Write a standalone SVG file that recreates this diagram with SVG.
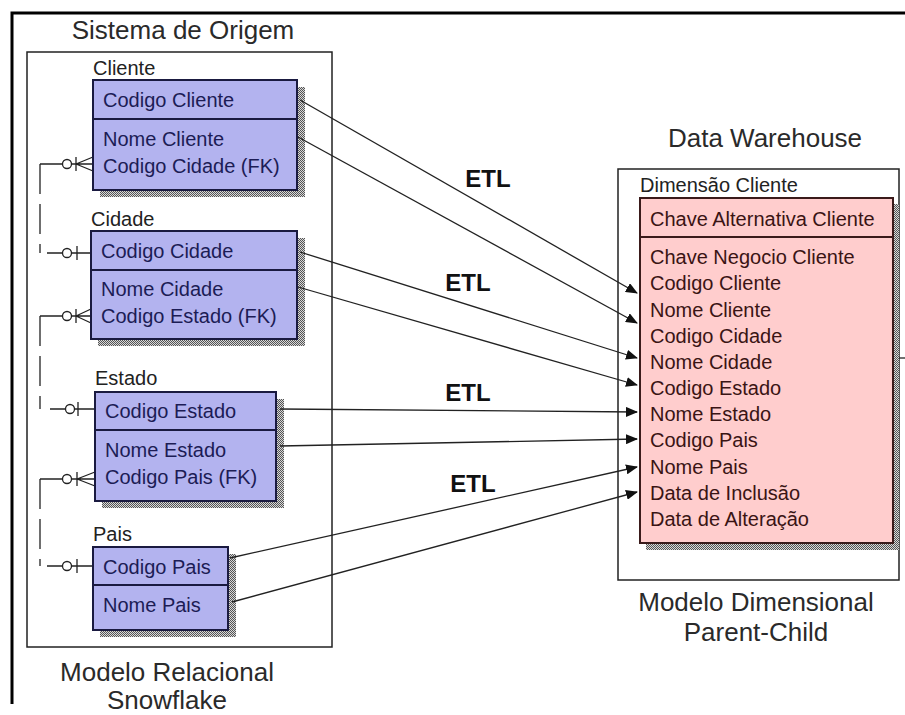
<svg xmlns="http://www.w3.org/2000/svg" width="905" height="715" viewBox="0 0 905 715">
  <style>
    .title { font-family: "Liberation Sans", Arial, sans-serif; font-size: 26px; fill: #2a2a2a; }
    .lbl { font-family: "Liberation Sans", Arial, sans-serif; font-size: 20px; fill: #222; }
    .row { font-family: "Liberation Sans", Arial, sans-serif; font-size: 20px; fill: #1c1c55; }
    .prow { font-family: "Liberation Sans", Arial, sans-serif; font-size: 20px; fill: #3a1414; }
    .etl { font-family: "Liberation Sans", Arial, sans-serif; font-size: 24px; font-weight: bold; fill: #111; }
    .frame { fill: none; stroke: #222; stroke-width: 1.5; }
    .ent { fill: #b3b3ef; stroke: #1a1a40; stroke-width: 2; }
    .pent { fill: #ffcdcd; stroke: #3a1a1a; stroke-width: 2; }
    .div { stroke: #1a1a40; stroke-width: 2; }
    .shadow { fill: url(#dither); }
    .flow { fill: none; stroke: #222; stroke-width: 1.3; marker-end: url(#arrow); }
    .rel { fill: none; stroke: #222; stroke-width: 1.3; }
    .dash { fill: none; stroke: #222; stroke-width: 1.3; stroke-dasharray: 30 10; }
    .opt { fill: #fff; stroke: #222; stroke-width: 1.3; }
  </style>
  <defs>
    <pattern id="dither" width="2" height="2" patternUnits="userSpaceOnUse">
      <rect width="2" height="2" fill="#d8d8d8"/>
      <rect width="1" height="1" fill="#555"/>
      <rect x="1" y="1" width="1" height="1" fill="#555"/>
    </pattern>
    <marker id="arrow" markerUnits="userSpaceOnUse" markerWidth="12" markerHeight="10" refX="11" refY="5" orient="auto">
      <path d="M0,0 L12,5 L0,10 Z" fill="#111"/>
    </marker>
  </defs>

  <rect width="905" height="715" fill="#fff"/>
  <!-- outer page border -->
  <path d="M12,704 V13 H905" fill="none" stroke="#000" stroke-width="3"/>

  <!-- source system frame -->
  <g id="source-frame">
    <text class="title" x="183" y="39" text-anchor="middle">Sistema de Origem</text>
    <rect class="frame" x="27" y="52" width="305" height="595"/>
    <text class="title" x="167" y="681" text-anchor="middle">Modelo Relacional</text>
    <text class="title" x="167" y="709" text-anchor="middle">Snowflake</text>
  </g>

  <!-- warehouse frame -->
  <g id="dw-frame">
    <text class="title" x="765" y="147" text-anchor="middle">Data Warehouse</text>
    <rect class="frame" x="618" y="169" width="281" height="411"/>
    <line x1="899" y1="358" x2="905" y2="358" stroke="#222" stroke-width="1.3"/>
    <text class="title" x="756" y="611" text-anchor="middle">Modelo Dimensional</text>
    <text class="title" x="756" y="641" text-anchor="middle">Parent-Child</text>
  </g>

  <!-- relationships between source tables -->
  <g id="relationships">
    <!-- Cliente -> Cidade -->
    <path class="rel" d="M40,164 H76"/>
    <path class="rel" d="M76,164 L93,157 M76,164 H93 M76,164 L93,171 M76,157 V171"/>
    <circle class="opt" cx="67" cy="164" r="4.5"/>
    <path class="dash" d="M40,164 V253"/>
    <path class="rel" d="M47,253 H93 M77,246 V260"/>
    <circle class="opt" cx="67" cy="253" r="4.5"/>
    <!-- Cidade -> Estado -->
    <path class="rel" d="M40,316 H76"/>
    <path class="rel" d="M76,316 L91,309 M76,316 H91 M76,316 L91,323 M76,309 V323"/>
    <circle class="opt" cx="67" cy="316" r="4.5"/>
    <path class="dash" d="M40,316 V409"/>
    <path class="rel" d="M50,409 H95 M78,402 V416"/>
    <circle class="opt" cx="70" cy="409" r="4.5"/>
    <!-- Estado -> Pais -->
    <path class="rel" d="M40,479 H77"/>
    <path class="rel" d="M77,479 L95,472 M77,479 H95 M77,479 L95,486 M77,472 V486"/>
    <circle class="opt" cx="67" cy="479" r="4.5"/>
    <path class="dash" d="M40,479 V566"/>
    <path class="rel" d="M47,566 H93 M77,559 V573"/>
    <circle class="opt" cx="67" cy="566" r="4.5"/>
  </g>

  <g id="cliente">
    <text class="lbl" x="93" y="75">Cliente</text>
    <rect class="shadow" x="100" y="87" width="205" height="110"/>
    <rect class="ent" x="93" y="80" width="204" height="110"/>
    <line class="div" x1="93" y1="119" x2="297" y2="119"/>
    <text class="row" x="103" y="107">Codigo Cliente</text>
    <text class="row" x="103" y="146">Nome Cliente</text>
    <text class="row" x="103" y="173">Codigo Cidade (FK)</text>
  </g>

  <g id="cidade">
    <text class="lbl" x="91" y="226">Cidade</text>
    <rect class="shadow" x="98" y="238" width="207" height="108"/>
    <rect class="ent" x="91" y="231" width="206" height="108"/>
    <line class="div" x1="91" y1="270" x2="297" y2="270"/>
    <text class="row" x="101" y="258">Codigo Cidade</text>
    <text class="row" x="101" y="296">Nome Cidade</text>
    <text class="row" x="101" y="323">Codigo Estado (FK)</text>
  </g>

  <g id="estado">
    <text class="lbl" x="95" y="385">Estado</text>
    <rect class="shadow" x="102" y="399" width="182" height="109"/>
    <rect class="ent" x="95" y="392" width="181" height="109"/>
    <line class="div" x1="95" y1="430" x2="276" y2="430"/>
    <text class="row" x="105" y="418">Codigo Estado</text>
    <text class="row" x="105" y="457">Nome Estado</text>
    <text class="row" x="105" y="484">Codigo Pais (FK)</text>
  </g>

  <g id="pais">
    <text class="lbl" x="93" y="541">Pais</text>
    <rect class="shadow" x="100" y="554" width="136" height="83"/>
    <rect class="ent" x="93" y="547" width="135" height="83"/>
    <line class="div" x1="93" y1="585" x2="228" y2="585"/>
    <text class="row" x="103" y="574">Codigo Pais</text>
    <text class="row" x="103" y="612">Nome Pais</text>
  </g>

  <g id="dimensao-cliente">
    <text class="lbl" x="640" y="192">Dimensão Cliente</text>
    <rect class="shadow" x="646" y="204" width="253" height="346"/>
    <rect class="pent" x="640" y="198" width="253" height="345"/>
    <line x1="640" y1="237" x2="893" y2="237" stroke="#3a1a1a" stroke-width="2"/>
    <text class="prow" x="650" y="226">Chave Alternativa Cliente</text>
    <text class="prow" x="650" y="264">Chave Negocio Cliente</text>
    <text class="prow" x="650" y="290">Codigo Cliente</text>
    <text class="prow" x="650" y="317">Nome Cliente</text>
    <text class="prow" x="650" y="343">Codigo Cidade</text>
    <text class="prow" x="650" y="369">Nome Cidade</text>
    <text class="prow" x="650" y="395">Codigo Estado</text>
    <text class="prow" x="650" y="421">Nome Estado</text>
    <text class="prow" x="650" y="447">Codigo Pais</text>
    <text class="prow" x="650" y="474">Nome Pais</text>
    <text class="prow" x="650" y="500">Data de Inclusão</text>
    <text class="prow" x="650" y="526">Data de Alteração</text>
  </g>

  <!-- ETL flows into the dimension -->
  <g id="connectors">
    <line class="flow" x1="300" y1="100" x2="637" y2="293"/>
    <line class="flow" x1="298" y1="137" x2="637" y2="323"/>
    <line class="flow" x1="300" y1="252" x2="637" y2="358"/>
    <line class="flow" x1="298" y1="287" x2="637" y2="385"/>
    <line class="flow" x1="280" y1="409" x2="637" y2="412"/>
    <line class="flow" x1="280" y1="446" x2="637" y2="439"/>
    <line class="flow" x1="230" y1="558" x2="637" y2="467"/>
    <line class="flow" x1="232" y1="602" x2="637" y2="492"/>
    <text class="etl" x="488" y="187" text-anchor="middle">ETL</text>
    <text class="etl" x="468" y="291" text-anchor="middle">ETL</text>
    <text class="etl" x="468" y="401" text-anchor="middle">ETL</text>
    <text class="etl" x="473" y="492" text-anchor="middle">ETL</text>
  </g>
</svg>
